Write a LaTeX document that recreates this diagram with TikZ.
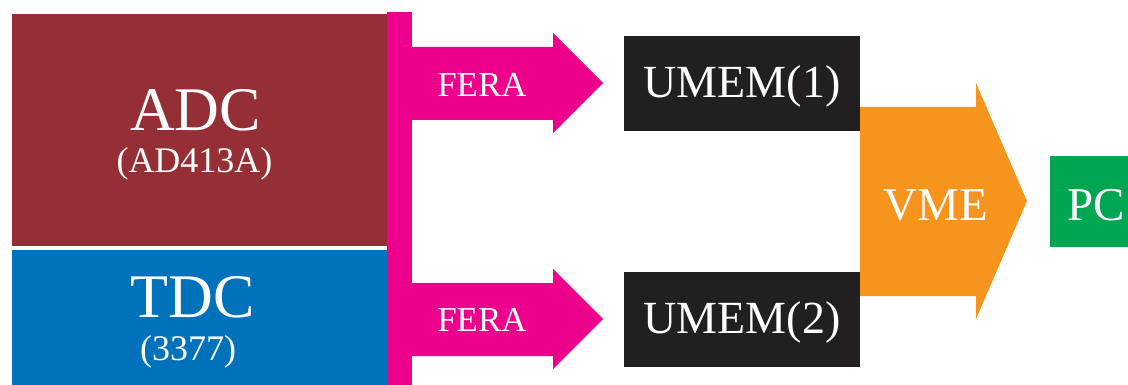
\documentclass[tikz,border=0pt]{standalone}
\usepackage{fontspec}
\setmainfont{Liberation Serif}
\definecolor{adcred}{HTML}{962F35}
\definecolor{tdcblue}{HTML}{0071BB}
\definecolor{fmag}{HTML}{EC008C}
\definecolor{umblack}{HTML}{231F20}
\definecolor{vmeor}{HTML}{F7941E}
\definecolor{pcgreen}{HTML}{00A651}
\newcommand{\fs}[1]{\fontsize{#1}{#1}\selectfont}
\begin{document}
\begin{tikzpicture}[x=1pt,y=-1pt,
  lbl/.style={text=white,anchor=base,inner sep=0pt},
  blk/.style={draw=none,inner sep=0pt,outer sep=0pt}]
\useasboundingbox (0,0) rectangle (1128,385);
% boxes
\fill[adcred] (12,14) rectangle (387,246);
\fill[tdcblue] (12,250) rectangle (387,385);
\fill[fmag] (387,12) rectangle (412,385);
% FERA arrows
\fill[fmag] (412,47) -- (553,47) -- (553,33) -- (603,83) -- (553,133) -- (553,120) -- (412,120) -- cycle;
\fill[fmag] (412,283) -- (553,283) -- (553,269) -- (603,319) -- (553,369) -- (553,356) -- (412,356) -- cycle;
% UMEM boxes
\fill[umblack] (624,36) rectangle (860,131);
\fill[umblack] (624,272) rectangle (860,367);
% VME arrow
\fill[vmeor] (860,107) -- (976,107) -- (976,83) -- (1027,201) -- (976,319) -- (976,296) -- (860,296) -- cycle;
% PC box
\fill[pcgreen] (1050,156) rectangle (1140,247);
% labels
\node[lbl,font=\fs{62}] (adcl) at (195.5,130.5) {ADC};
\node[lbl,font=\fs{36}] (adcs) at (194.5,173) {(AD413A)};
\node[lbl,font=\fs{62}] (tdcl) at (192.5,317.5) {TDC};
\node[lbl,font=\fs{36}] (tdcs) at (188,360) {(3377)};
\node[lbl,font=\fs{35}] (fera1) at (482,96.5) {FERA};
\node[lbl,font=\fs{35}] (fera2) at (482,331.5) {FERA};
\node[lbl,font=\fs{46}] (umem1) at (742,98) {UMEM(1)};
\node[lbl,font=\fs{46}] (umem2) at (742,333) {UMEM(2)};
\node[lbl,font=\fs{47}] (vme) at (936,220) {VME};
\node[lbl,font=\fs{47},anchor=base west] (pc) at (1067,220) {PC};
\end{tikzpicture}
\end{document}
